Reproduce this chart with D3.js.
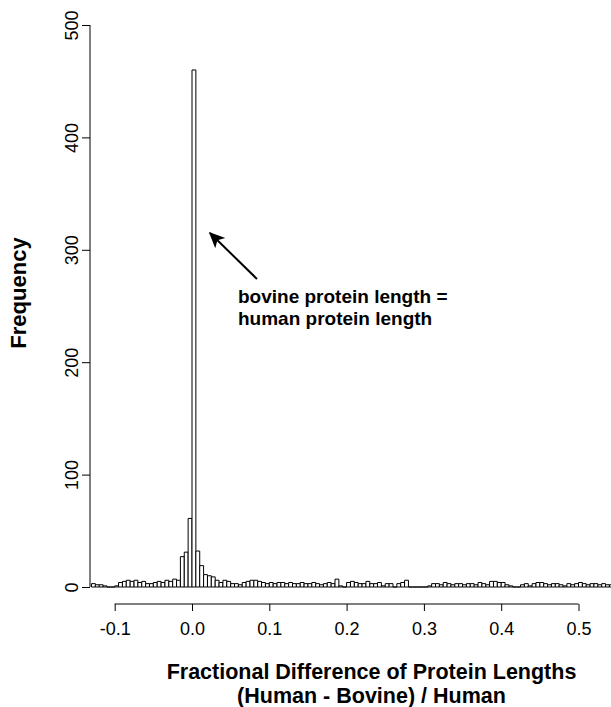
<!DOCTYPE html>
<html>
<head>
<meta charset="utf-8">
<script src="https://cdn.jsdelivr.net/npm/d3@7"></script>
<style>
  html, body { margin: 0; padding: 0; background: #fff; }
  svg { display: block; }
  text { font-family: "Liberation Sans", Arial, Helvetica, sans-serif; }
</style>
</head>
<body>
<script>
// ---- data ----
const binStart = -0.13;
const binWidth = 0.005;
const counts = [
  3, 2, 2, 1, 0, 0, 1, 4, 5, 6,
  5, 6, 4, 5, 3, 3, 4, 5, 4, 6,
  5, 7, 6, 27, 31, 61, 460, 32, 19, 11,
  10, 9, 6, 4, 6, 5, 3, 3, 2, 4,
  5, 6, 6, 5, 4, 3, 4, 3, 4, 4,
  3, 4, 3, 3, 4, 3, 3, 4, 3, 2,
  3, 4, 3, 7, 1, 0, 4, 5, 4, 3,
  3, 5, 3, 3, 4, 1, 3, 3, 0, 3,
  4, 6, 0, 0, 0, 0, 0, 1, 3, 3,
  2, 4, 3, 2, 3, 3, 2, 3, 3, 2,
  4, 3, 2, 5, 5, 4, 4, 2, 1, 0,
  0, 2, 3, 1, 3, 4, 4, 3, 2, 3,
  3, 2, 1, 3, 2, 3, 4, 3, 2, 3,
  3, 2, 3, 2, 2
];
const xTicks = [-0.1, 0.0, 0.1, 0.2, 0.3, 0.4, 0.5];
const yTicks = [0, 100, 200, 300, 400, 500];
const xTitle = ["Fractional Difference of Protein Lengths", "(Human - Bovine) / Human"];
const yTitle = "Frequency";
const note = ["bovine protein length =", "human protein length"];

const bins = counts.map((c, i) => ({
  x0: +(binStart + i * binWidth).toFixed(3),
  x1: +(binStart + (i + 1) * binWidth).toFixed(3),
  n: c
}));

// ---- layout ----
const W = 611, H = 707;
const x = d3.scaleLinear().domain([-0.1, 0.5]).range([114.7, 578.5]);
const y = d3.scaleLinear().domain([0, 500]).range([587, 25]);

const svg = d3.select("body").append("svg").attr("width", W).attr("height", H);

// bars (paths so that empty bins still draw their base line)
svg.append("g")
  .selectAll("path")
  .data(bins)
  .join("path")
  .attr("d", d => {
    const a = x(d.x0), b = x(d.x1), y0 = y(0), y1 = y(d.n);
    return `M${a},${y0}V${y1}H${b}V${y0}Z`;
  })
  .attr("fill", "#fff")
  .attr("stroke", "#000")
  .attr("stroke-width", 1);

// x axis
const xAxis = svg.append("g").attr("transform", "translate(0,604)")
  .call(d3.axisBottom(x).tickValues(xTicks).tickSize(7).tickPadding(11));
xAxis.select(".domain").attr("d", `M${x(-0.1)},0H${x(0.5)}`).attr("stroke-width", 1);
xAxis.selectAll("text").attr("font-size", 18).attr("fill", "#000")
  .attr("font-family", "Liberation Sans, Arial, sans-serif")
  .text(d => d3.format(".1f")(d).replace("\u2212", "-"));

// y axis
const yAxis = svg.append("g").attr("transform", "translate(90,0)")
  .call(d3.axisLeft(y).tickValues(yTicks).tickSize(8).tickPadding(0));
yAxis.select(".domain").attr("d", `M0,${y(0)}V${y(500)}`).attr("stroke-width", 1);
yAxis.selectAll(".tick text")
  .attr("font-size", 18).attr("fill", "#000")
  .attr("font-family", "Liberation Sans, Arial, sans-serif")
  .attr("text-anchor", "middle")
  .attr("dy", null)
  .attr("x", null)
  .attr("transform", "translate(-12,0) rotate(-90)");

// axis titles
svg.append("text")
  .attr("x", 371.5).attr("y", 679)
  .attr("text-anchor", "middle")
  .attr("font-size", 21.5).attr("font-weight", "bold")
  .text(xTitle[0]);
svg.append("text")
  .attr("x", 371.5).attr("y", 703)
  .attr("text-anchor", "middle")
  .attr("font-size", 21.5).attr("font-weight", "bold")
  .text(xTitle[1]);
svg.append("text")
  .attr("transform", "translate(26,293) rotate(-90)")
  .attr("text-anchor", "middle")
  .attr("font-size", 22).attr("font-weight", "bold")
  .text(yTitle);

// annotation arrow
const defs = svg.append("defs");
defs.append("marker")
  .attr("id", "ah").attr("viewBox", "0 0 10 10")
  .attr("refX", 9).attr("refY", 5)
  .attr("markerWidth", 16).attr("markerHeight", 16)
  .attr("markerUnits", "userSpaceOnUse")
  .attr("orient", "auto")
  .append("path").attr("d", "M0,0.5 L10,5 L0,9.5 L2.5,5 Z").attr("fill", "#000");
svg.append("line")
  .attr("x1", 257).attr("y1", 279)
  .attr("x2", 210).attr("y2", 233)
  .attr("stroke", "#000").attr("stroke-width", 2)
  .attr("marker-end", "url(#ah)");

svg.append("text").attr("x", 238).attr("y", 303)
  .attr("font-size", 19).attr("font-weight", "bold").text(note[0]);
svg.append("text").attr("x", 238).attr("y", 325)
  .attr("font-size", 19).attr("font-weight", "bold").text(note[1]);
</script>
</body>
</html>
